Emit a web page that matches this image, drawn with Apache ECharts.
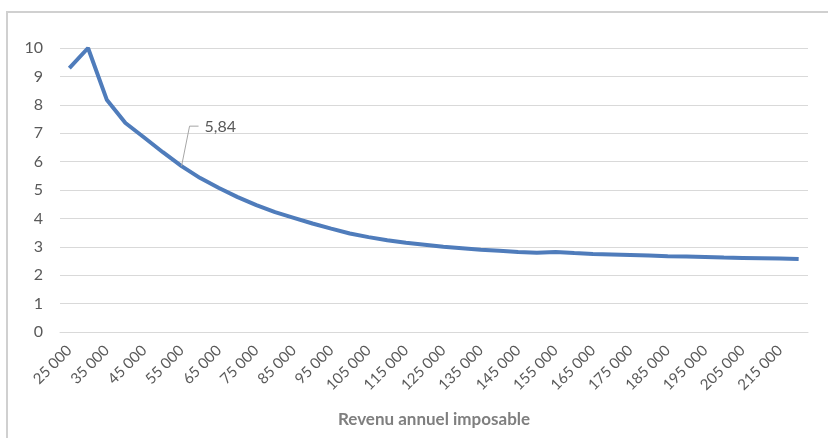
<!DOCTYPE html>
<html>
<head>
<meta charset="utf-8">
<script src="https://cdn.jsdelivr.net/npm/echarts@6/dist/echarts.min.js"></script>
<style>
  html, body { margin: 0; padding: 0; background: #fff; }
  #wrap { position: relative; width: 828px; height: 438px; overflow: hidden; }
  #chart { position: absolute; left: 0; top: 0; width: 828px; height: 438px; }
  #frame { position: absolute; left: 6px; top: 11px; width: 900px; height: 500px;
           border-left: 2px solid #d0d0d0; border-top: 2px solid #d0d0d0; pointer-events: none; }
</style>
</head>
<body>
<div id="wrap">
  <div id="chart"></div>
  <div id="frame"></div>
</div>
<script>
// Revenu annuel imposable (tranches de 5 000)
const revenus = [
  '25 000', '30 000', '35 000', '40 000', '45 000', '50 000', '55 000', '60 000',
  '65 000', '70 000', '75 000', '80 000', '85 000', '90 000', '95 000', '100 000',
  '105 000', '110 000', '115 000', '120 000', '125 000', '130 000', '135 000', '140 000',
  '145 000', '150 000', '155 000', '160 000', '165 000', '170 000', '175 000', '180 000',
  '185 000', '190 000', '195 000', '200 000', '205 000', '210 000', '215 000', '220 000'
];

// Valeur par tranche de revenu
const valeurs = [
  9.29, 10.00, 8.18, 7.36, 6.85, 6.33, 5.84, 5.42,
  5.07, 4.75, 4.47, 4.22, 4.02, 3.82, 3.64, 3.47,
  3.34, 3.23, 3.14, 3.07, 3.00, 2.95, 2.90, 2.86,
  2.82, 2.79, 2.82, 2.78, 2.75, 2.73, 2.71, 2.69,
  2.67, 2.66, 2.64, 2.62, 2.61, 2.60, 2.59, 2.57
];

// Point annoté sur la courbe
const pointAnnote = '55 000';

const yTicks = { min: 0, max: 10, interval: 1 };

const idx = revenus.indexOf(pointAnnote);
const fmt = v => String(v.toFixed(2)).replace('.', ',');

const font = 'Lato, "Open Sans", sans-serif';
const chart = echarts.init(document.getElementById('chart'));

// Étiquette de donnée avec trait de rappel coudé
function renderAnnotation(params, api) {
  const p = api.coord([api.value(0), api.value(1)]);
  const bend = [p[0] + 8, p[1] - 40];
  const end = [p[0] + 17, p[1] - 40];
  return {
    type: 'group',
    children: [
      {
        type: 'polyline',
        shape: { points: [p, bend, end] },
        style: { stroke: '#a6a6a6', lineWidth: 1, fill: null }
      },
      {
        type: 'text',
        x: end[0] + 6,
        y: end[1] + 1,
        style: {
          text: fmt(api.value(1)),
          fill: '#595959',
          font: '16px ' + font,
          verticalAlign: 'middle',
          align: 'left'
        }
      }
    ]
  };
}

chart.setOption({
  animation: false,
  grid: { left: 60, right: 20, top: 48, bottom: 106 },
  xAxis: {
    type: 'category',
    data: revenus,
    boundaryGap: true,
    axisLine: { show: true, lineStyle: { color: '#d9d9d9', width: 1 } },
    axisTick: { show: false },
    axisLabel: {
      interval: 1, rotate: 45, color: '#595959', fontSize: 15, fontFamily: font, margin: 16
    },
    name: 'Revenu annuel imposable',
    nameLocation: 'middle',
    nameGap: 79,
    nameTextStyle: { color: '#7f7f7f', fontSize: 17, fontWeight: 'bold', fontFamily: font }
  },
  yAxis: {
    type: 'value',
    min: yTicks.min, max: yTicks.max, interval: yTicks.interval,
    axisLine: { show: false },
    axisTick: { show: false },
    splitLine: { lineStyle: { color: '#d9d9d9', width: 1 } },
    axisLabel: { color: '#595959', fontSize: 16, fontFamily: font, margin: 17 }
  },
  series: [
    {
      type: 'line',
      data: valeurs,
      showSymbol: false,
      symbol: 'none',
      lineStyle: { color: '#4f7cbb', width: 4 },
      z: 2
    },
    {
      type: 'custom',
      data: [[idx, valeurs[idx]]],
      renderItem: renderAnnotation,
      silent: true,
      z: 3
    }
  ]
});
</script>
</body>
</html>
